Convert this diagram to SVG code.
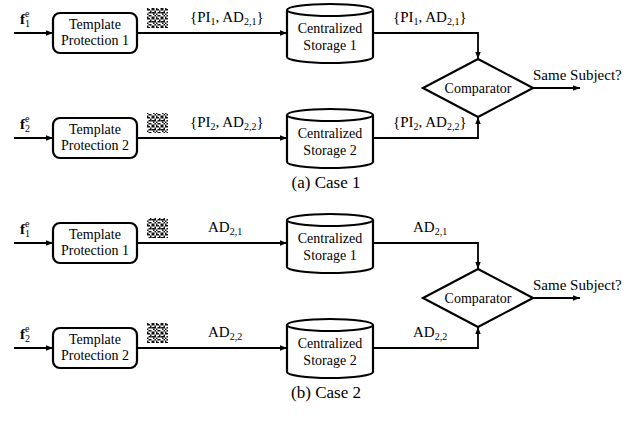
<svg xmlns="http://www.w3.org/2000/svg" width="638" height="424" viewBox="0 0 638 424" font-family="'Liberation Serif', serif">
<style>
text{font-family:'Liberation Serif',serif}
.n{font-size:14px;text-anchor:middle}
.l{font-size:15px}
.cap{font-size:17px;text-anchor:middle}
.box{fill:#fff;stroke:#000;stroke-width:2.2}
.ln{fill:none;stroke:#000;stroke-width:1.8}
.f{font-size:15px;font-weight:bold}
</style>
<defs>
<marker id="ah" markerWidth="8" markerHeight="8" refX="7" refY="4" orient="auto" markerUnits="userSpaceOnUse">
<path d="M0,1.3 L7,4 L0,6.7 Z" fill="#000"/>
</marker>
<pattern id="noise" width="9" height="9" patternUnits="userSpaceOnUse">
<rect width="9" height="9" fill="#fff"/>
<g fill="#111">
<rect x="0" y="0" width="1.5" height="1.5"/><rect x="3" y="0" width="3" height="1.5"/><rect x="7.5" y="0" width="1.5" height="1.5"/>
<rect x="1.5" y="1.5" width="1.5" height="1.5"/><rect x="6" y="1.5" width="1.5" height="3"/>
<rect x="0" y="3" width="3" height="1.5"/><rect x="4.5" y="3" width="1.5" height="1.5"/><rect x="7.5" y="3" width="1.5" height="1.5"/>
<rect x="3" y="4.5" width="1.5" height="1.5"/><rect x="0" y="4.5" width="1.5" height="1.5"/>
<rect x="1.5" y="6" width="1.5" height="1.5"/><rect x="4.5" y="6" width="3" height="1.5"/>
<rect x="0" y="7.5" width="1.5" height="1.5"/><rect x="3" y="7.5" width="1.5" height="1.5"/><rect x="7.5" y="7.5" width="1.5" height="1.5"/>
</g>
</pattern>
</defs>

<!-- Case 1 -->
<g id="c1-in1"><text class="f" x="20" y="24">f<tspan dy="3" font-size="10" font-weight="normal">1</tspan><tspan dx="-5" dy="-10" font-size="10" font-weight="normal">e</tspan></text></g>
<g id="c1-tp1"><rect class="box" x="53" y="13" width="84" height="40" rx="7"/><text class="n" x="95" y="29">Template</text><text class="n" x="95" y="45">Protection 1</text></g>
<rect x="147" y="8" width="21" height="20" fill="url(#noise)"/>
<g id="c1-cs1"><path class="box" d="M287,10 A43,6 0 0,1 373,10 L373,57 A43,6 0 0,1 287,57 Z M287,10 A43,6 0 0,0 373,10"/><text class="n" x="330" y="33">Centralized</text><text class="n" x="330" y="50">Storage 1</text></g>

<g id="c1-in2"><text class="f" x="20" y="129">f<tspan dy="3" font-size="10" font-weight="normal">2</tspan><tspan dx="-5" dy="-10" font-size="10" font-weight="normal">e</tspan></text></g>
<g id="c1-tp2"><rect class="box" x="53" y="118" width="84" height="40" rx="7"/><text class="n" x="95" y="134">Template</text><text class="n" x="95" y="150">Protection 2</text></g>
<rect x="147" y="113" width="21" height="20" fill="url(#noise)"/>
<g id="c1-cs2"><path class="box" d="M287,115 A43,6 0 0,1 373,115 L373,162 A43,6 0 0,1 287,162 Z M287,115 A43,6 0 0,0 373,115"/><text class="n" x="330" y="138">Centralized</text><text class="n" x="330" y="155">Storage 2</text></g>

<g id="c1-cmp"><path class="box" d="M478,59 L533,88 L478,117 L423,88 Z"/><text class="n" x="478" y="93">Comparator</text></g>
<text class="l" x="533" y="80">Same Subject?</text>

<g id="c1-edges">
<line class="ln" x1="14" y1="33" x2="53" y2="33" marker-end="url(#ah)"/>
<line class="ln" x1="137" y1="33" x2="287" y2="33" marker-end="url(#ah)"/>
<polyline class="ln" points="373,33 478,33 478,59" marker-end="url(#ah)"/>
<line class="ln" x1="14" y1="138" x2="53" y2="138" marker-end="url(#ah)"/>
<line class="ln" x1="137" y1="138" x2="287" y2="138" marker-end="url(#ah)"/>
<polyline class="ln" points="373,138 478,138 478,117" marker-end="url(#ah)"/>
<line class="ln" x1="533" y1="88" x2="580" y2="88" marker-end="url(#ah)"/>
</g>
<text class="l" x="190" y="22">{PI<tspan dy="3" font-size="10">1</tspan><tspan dy="-3">, AD</tspan><tspan dy="3" font-size="10">2,1</tspan><tspan dy="-3">}</tspan></text>
<text class="l" x="393" y="22">{PI<tspan dy="3" font-size="10">1</tspan><tspan dy="-3">, AD</tspan><tspan dy="3" font-size="10">2,1</tspan><tspan dy="-3">}</tspan></text>
<text class="l" x="190" y="127">{PI<tspan dy="3" font-size="10">2</tspan><tspan dy="-3">, AD</tspan><tspan dy="3" font-size="10">2,2</tspan><tspan dy="-3">}</tspan></text>
<text class="l" x="393" y="127">{PI<tspan dy="3" font-size="10">2</tspan><tspan dy="-3">, AD</tspan><tspan dy="3" font-size="10">2,2</tspan><tspan dy="-3">}</tspan></text>
<text class="cap" x="326" y="188">(a) Case 1</text>

<!-- Case 2 -->
<g id="c2-in1"><text class="f" x="20" y="234">f<tspan dy="3" font-size="10" font-weight="normal">1</tspan><tspan dx="-5" dy="-10" font-size="10" font-weight="normal">e</tspan></text></g>
<g id="c2-tp1"><rect class="box" x="53" y="223" width="84" height="40" rx="7"/><text class="n" x="95" y="239">Template</text><text class="n" x="95" y="255">Protection 1</text></g>
<rect x="147" y="218" width="21" height="20" fill="url(#noise)"/>
<g id="c2-cs1"><path class="box" d="M287,220 A43,6 0 0,1 373,220 L373,267 A43,6 0 0,1 287,267 Z M287,220 A43,6 0 0,0 373,220"/><text class="n" x="330" y="243">Centralized</text><text class="n" x="330" y="260">Storage 1</text></g>

<g id="c2-in2"><text class="f" x="20" y="339">f<tspan dy="3" font-size="10" font-weight="normal">2</tspan><tspan dx="-5" dy="-10" font-size="10" font-weight="normal">e</tspan></text></g>
<g id="c2-tp2"><rect class="box" x="53" y="328" width="84" height="40" rx="7"/><text class="n" x="95" y="344">Template</text><text class="n" x="95" y="360">Protection 2</text></g>
<rect x="147" y="323" width="21" height="20" fill="url(#noise)"/>
<g id="c2-cs2"><path class="box" d="M287,325 A43,6 0 0,1 373,325 L373,372 A43,6 0 0,1 287,372 Z M287,325 A43,6 0 0,0 373,325"/><text class="n" x="330" y="348">Centralized</text><text class="n" x="330" y="365">Storage 2</text></g>

<g id="c2-cmp"><path class="box" d="M478,269 L533,298 L478,327 L423,298 Z"/><text class="n" x="478" y="303">Comparator</text></g>
<text class="l" x="533" y="290">Same Subject?</text>

<g id="c2-edges">
<line class="ln" x1="14" y1="243" x2="53" y2="243" marker-end="url(#ah)"/>
<line class="ln" x1="137" y1="243" x2="287" y2="243" marker-end="url(#ah)"/>
<polyline class="ln" points="373,243 478,243 478,269" marker-end="url(#ah)"/>
<line class="ln" x1="14" y1="348" x2="53" y2="348" marker-end="url(#ah)"/>
<line class="ln" x1="137" y1="348" x2="287" y2="348" marker-end="url(#ah)"/>
<polyline class="ln" points="373,348 478,348 478,327" marker-end="url(#ah)"/>
<line class="ln" x1="533" y1="298" x2="580" y2="298" marker-end="url(#ah)"/>
</g>
<text class="l" x="208" y="232">AD<tspan dy="3" font-size="10">2,1</tspan></text>
<text class="l" x="413" y="232">AD<tspan dy="3" font-size="10">2,1</tspan></text>
<text class="l" x="208" y="337">AD<tspan dy="3" font-size="10">2,2</tspan></text>
<text class="l" x="413" y="337">AD<tspan dy="3" font-size="10">2,2</tspan></text>
<text class="cap" x="326" y="398">(b) Case 2</text>
</svg>
